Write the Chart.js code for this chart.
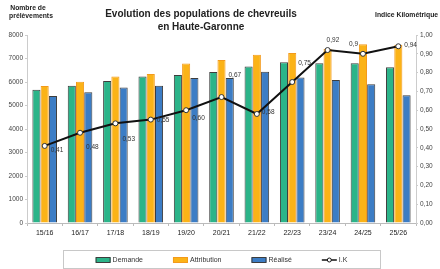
<!DOCTYPE html>
<html>
<head>
<meta charset="utf-8">
<script src="https://cdn.jsdelivr.net/npm/chart.js@4.4.1/dist/chart.umd.min.js"></script>
<style>
html, body { margin: 0; padding: 0; background: #fff; }
#wrap { width: 440px; height: 269px; }
</style>
</head>
<body>
<div id="wrap"><canvas id="chevChart"></canvas></div>
<script>
// Saisons
const seasons = ['15/16', '16/17', '17/18', '18/19', '19/20', '20/21', '21/22', '22/23', '23/24', '24/25', '25/26'];
// Nombre de prélèvements
const demande = [5670, 5840, 6040, 6230, 6300, 6430, 6660, 6840, 6800, 6800, 6630];
const attribution = [5830, 6010, 6230, 6340, 6790, 6940, 7160, 7230, 7410, 7610, 7580];
const realise = [5400, 5560, 5770, 5840, 6170, 6170, 6440, 6190, 6090, 5900, 5440];
// Indice kilométrique
const indiceK = [0.41, 0.48, 0.53, 0.55, 0.60, 0.67, 0.58, 0.75, 0.92, 0.9, 0.94];
const ikLabels = ['0,41', '0,48', '0,53', '0,55', '0,60', '0,67', '0,58', '0,75', '0,92', '0,9', '0,94'];

// label offsets from each point (style only)
const ikLabelOffsets = [[6, 4], [6, 14], [7, 16], [6, 1], [6, 8], [7, -22], [5, -2], [6, -19], [-1, -10], [-14, -10], [6, -1]];

const FONT = '"Liberation Sans", Arial, sans-serif';

const extras = {
    id: 'extras',
    afterDraw(chart) {
        const ctx = chart.ctx;
        ctx.save();
        // titre
        ctx.fillStyle = '#222';
        ctx.textAlign = 'center';
        ctx.textBaseline = 'middle';
        ctx.font = 'bold 10px ' + FONT;
        ctx.fillText('Evolution des populations de chevreuils', 201, 14);
        ctx.fillText('en Haute-Garonne', 201, 27);

        // titres des axes
        ctx.font = 'bold 6.8px ' + FONT;
        ctx.fillText('Nombre de', 28, 8);
        ctx.fillText('prélèvements', 31, 16);
        ctx.textAlign = 'left';
        ctx.fillText('Indice Kilométrique', 375, 15);

        // étiquettes I.K
        const meta = chart.getDatasetMeta(3);
        ctx.font = '6.5px ' + FONT;
        ctx.fillStyle = '#333';
        meta.data.forEach((pt, i) => {
            const off = ikLabelOffsets[i];
            ctx.fillText(ikLabels[i], pt.x + off[0], pt.y + off[1]);
        });

        // légende
        const boxL = 63, boxR = 380, boxT = 250, boxB = 268;
        ctx.strokeStyle = '#c8c8c8';
        ctx.lineWidth = 1;
        ctx.strokeRect(boxL + 0.5, boxT + 0.5, boxR - boxL, boxB - boxT);
        ctx.font = '7px ' + FONT;
        const sw = 15, gap = 30;
        const items = chart.data.datasets.map(ds => ({ ds, w: sw + 2 + ctx.measureText(ds.label).width }));
        const total = items.reduce((s, it) => s + it.w, 0) + gap * (items.length - 1);
        let x = (boxL + boxR) / 2 - total / 2;
        const ly = 260;
        items.forEach(it => {
            const ds = it.ds;
            if (ds.type === 'line') {
                ctx.strokeStyle = ds.borderColor;
                ctx.lineWidth = 1.5;
                ctx.beginPath();
                ctx.moveTo(x, ly);
                ctx.lineTo(x + sw, ly);
                ctx.stroke();
                ctx.beginPath();
                ctx.arc(x + sw / 2, ly, 2, 0, Math.PI * 2);
                ctx.fillStyle = '#fff';
                ctx.fill();
                ctx.lineWidth = 1;
                ctx.stroke();
            } else {
                ctx.fillStyle = ds.backgroundColor;
                ctx.fillRect(x, ly - 2.5, sw, 5);
                ctx.strokeStyle = ds.borderColor;
                ctx.lineWidth = 1;
                ctx.strokeRect(x + 0.5, ly - 2.5, sw - 1, 5);
            }
            ctx.fillStyle = '#333';
            ctx.textAlign = 'left';
            ctx.fillText(ds.label, x + sw + 2, ly);
            x += it.w + gap;
        });
        ctx.restore();
    }
};

const ctx = document.getElementById('chevChart').getContext('2d');
const chevChart = new Chart(ctx, {
    type: 'bar',
    data: {
        labels: seasons,
        datasets: [
            {
                label: 'Demande',
                data: demande,
                backgroundColor: '#2bb489',
                borderColor: '#3d3d3d',
                borderWidth: 1,
                yAxisID: 'y',
                order: 1
            },
            {
                label: 'Attribution',
                data: attribution,
                backgroundColor: '#fbb317',
                borderColor: '#f39a1b',
                borderWidth: 1,
                yAxisID: 'y',
                order: 1
            },
            {
                label: 'Réalisé',
                data: realise,
                backgroundColor: '#3c7dc5',
                borderColor: '#3d3d3d',
                borderWidth: 1,
                yAxisID: 'y',
                order: 1
            },
            {
                type: 'line',
                label: 'I.K',
                data: indiceK,
                borderColor: '#111',
                borderWidth: 2,
                pointRadius: 2.5,
                pointBackgroundColor: '#fff',
                pointBorderColor: '#333',
                pointBorderWidth: 1,
                tension: 0,
                fill: false,
                yAxisID: 'y1',
                order: 0
            }
        ]
    },
    options: {
        responsive: true,
        maintainAspectRatio: false,
        animation: false,
        layout: { padding: { top: 35, bottom: 30, left: 0, right: 0 } },
        datasets: {
            bar: { categoryPercentage: 0.7, barPercentage: 0.98, borderSkipped: 'bottom' }
        },
        scales: {
            x: {
                grid: { display: true, drawOnChartArea: false, tickLength: 3, color: '#bbb' },
                border: { color: '#bbb' },
                ticks: { color: '#222', font: { size: 7, family: FONT }, padding: 3, maxRotation: 0 },
                afterFit: (scale) => { scale.height = 16; }
            },
            y: {
                position: 'left',
                min: 0,
                max: 8000,
                ticks: {
                    stepSize: 1000,
                    color: '#444',
                    font: { size: 6.5, family: FONT },
                    padding: 2,
                    callback: (v) => String(v)
                },
                grid: { display: true, drawOnChartArea: false, tickLength: 2, color: '#ccc' },
                border: { color: '#ccc' },
                afterFit: (scale) => { scale.width = 27; }
            },
            y1: {
                position: 'right',
                min: 0,
                max: 1,
                ticks: {
                    stepSize: 0.1,
                    color: '#444',
                    font: { size: 6.5, family: FONT },
                    padding: 2,
                    callback: (v) => v.toFixed(2).replace('.', ',')
                },
                grid: { display: true, drawOnChartArea: false, tickLength: 2, color: '#ccc' },
                border: { color: '#ccc' },
                afterFit: (scale) => { scale.width = 24; }
            }
        },
        plugins: {
            legend: { display: false },
            tooltip: { enabled: false }
        }
    },
    plugins: [extras]
});
</script>
</body>
</html>
